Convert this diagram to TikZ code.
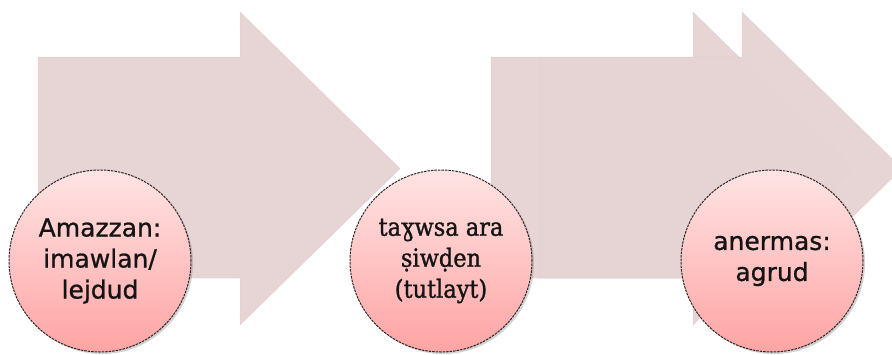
\documentclass[tikz,border=0pt]{standalone}
\usepackage{fontspec}
\setmainfont{DejaVu Serif}
\setsansfont{DejaVu Sans}
\newfontfamily\circsans[FakeBold=0.9]{DejaVu Sans}
\newfontfamily\circserif[FakeBold=1.2]{DejaVu Serif Condensed}
\usetikzlibrary{shadows}
\definecolor{arrowfill}{HTML}{E6D3D3}
\definecolor{arrowedge}{HTML}{D9C4C4}
\definecolor{pinktop}{HTML}{FFE4E4}
\definecolor{pinkbot}{HTML}{FFA4A4}
\definecolor{rimcol}{HTML}{2E2626}
\tikzset{
  arrowshape/.style={fill=arrowfill, fill opacity=0.96, draw=arrowedge, draw opacity=0.5, line width=0.5pt},
  bubble/.style={circle, minimum size=182pt, inner sep=0pt,
    top color=pinktop, bottom color=pinkbot, draw=rimcol, line width=1pt,
    dash pattern=on 2.5pt off 1pt,
    drop shadow={opacity=0.35, shadow xshift=2pt, shadow yshift=-2pt},
    align=center, text=black!92},
  sanstext/.style={font=\circsans\fontsize{25}{31}\selectfont},
  seriftext/.style={font=\circserif\fontsize{25}{31}\selectfont},
}
\begin{document}
\begin{tikzpicture}[x=1pt,y=-1pt]
\useasboundingbox (0,0) rectangle (892,354);
\clip (0,0) rectangle (892,354);
% arrows
\path[arrowshape] (38,57) -- (240,57) -- (240,12) -- (400,168.5) -- (240,325) -- (240,278) -- (38,278) -- cycle;
\path[arrowshape] (491,57) -- (693,57) -- (693,12) -- (853,168.5) -- (693,325) -- (693,278) -- (491,278) -- cycle;
\path[arrowshape] (540,57) -- (742,57) -- (742,12) -- (902,168.5) -- (742,325) -- (742,278) -- (540,278) -- cycle;
% circles
\node[bubble, sanstext] (c1) at (100,261) {Amazzan:\\imawlan/\\lejdud};
\node[bubble, seriftext] (c2) at (441,261) {taɣwsa ara\\ṣiwḍen\\(tutlayt)};
\node[bubble, sanstext] (c3) at (772,261) {anermas:\\agrud};
\end{tikzpicture}
\end{document}
